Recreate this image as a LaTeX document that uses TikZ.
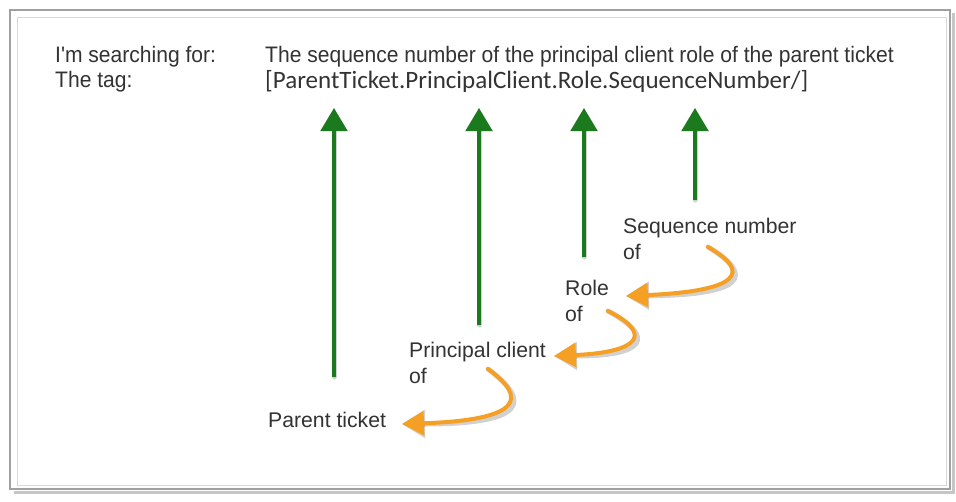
\documentclass[tikz,border=0pt]{standalone}
\usepackage{fontspec}
\setmainfont{Liberation Sans}
\newfontfamily\narrowfont[FakeStretch=0.94]{Liberation Sans}
\newfontfamily\tagfont{Carlito}
\usetikzlibrary{arrows.meta}
\definecolor{txt}{HTML}{333333}
\definecolor{grn}{HTML}{1B7A1E}
\definecolor{org}{HTML}{F5A024}
\definecolor{frm}{HTML}{A0A0A0}
\tikzset{
  greenarrow/.style={draw=grn, line width=4pt, -{Triangle[width=26pt,length=23pt]}},
  orangearrow/.style={draw=org, line width=4pt, line cap=round, -{Triangle[width=24pt,length=22pt]}},
  shadowarrow/.style={draw=black, opacity=0.18, line width=5pt, line cap=round, -{Triangle[width=27pt,length=23pt]}},
  lbl/.style={font=\fontsize{21.2}{26}\selectfont, text=txt, inner sep=0pt, anchor=base west},
  toptxt/.style={font=\narrowfont\fontsize{22.4}{26}\selectfont, text=txt, inner sep=0pt, anchor=base west},
  tagtxt/.style={font=\tagfont\fontsize{25}{28}\selectfont, text=txt, inner sep=0pt, anchor=base west},
}
\begin{document}
\begin{tikzpicture}[x=1pt,y=-1pt]
\useasboundingbox (0,0) rectangle (956,501);
\fill[white] (0,0) rectangle (956,501);
% frame
\draw[frm!60, line width=3pt] (14,492) -- (953,492) -- (953,13);
\draw[frm, line width=2.5pt] (10,10) rectangle (950,489);
\draw[frm!40, line width=0.8pt] (17,17) rectangle (946,485);
% texts
\node[toptxt] (search) at (55,62) {I'm searching for:};
\node[toptxt] (tag) at (55,87) {The tag:};
\node[toptxt] (desc) at (265,62) {The sequence number of the principal client role of the parent ticket};
\node[tagtxt] (tagval) at (265,88) {[ParentTicket.PrincipalClient.Role.SequenceNumber/]};
% labels
\node[lbl] (seq) at (623,233) {Sequence number};
\node[lbl] (seqof) at (623,259) {of};
\node[lbl] (role) at (565,295) {Role};
\node[lbl] (roleof) at (565,321) {of};
\node[lbl] (pc) at (409,357) {Principal client};
\node[lbl] (pcof) at (409,383) {of};
\node[lbl] (pt) at (268,427) {Parent ticket};
% coordinates for arrows
\coordinate (g1s) at (334,377); \coordinate (g1e) at (334,108);
\coordinate (g2s) at (479,325); \coordinate (g2e) at (479,108);
\coordinate (g3s) at (584,257); \coordinate (g3e) at (584,108);
\coordinate (g4s) at (695,200); \coordinate (g4e) at (695,108);
\coordinate (o1s) at (708,247); \coordinate (o1e) at (626,296);
\coordinate (o2s) at (608,311); \coordinate (o2e) at (554,356);
\coordinate (o3s) at (488,369); \coordinate (o3e) at (402,424);
% shadows
\begin{scope}[shift={(4,4)}]
\draw[shadowarrow] (g1s) -- (g1e);
\draw[shadowarrow] (g2s) -- (g2e);
\draw[shadowarrow] (g3s) -- (g3e);
\draw[shadowarrow] (g4s) -- (g4e);
\draw[shadowarrow] (o1s) .. controls (752,272) and (740,291) .. (o1e);
\draw[shadowarrow] (o2s) .. controls (652,333) and (642,352) .. (o2e);
\draw[shadowarrow] (o3s) .. controls (528,398) and (522,420) .. (o3e);
\end{scope}
% green arrows
\draw[greenarrow] (g1s) -- (g1e);
\draw[greenarrow] (g2s) -- (g2e);
\draw[greenarrow] (g3s) -- (g3e);
\draw[greenarrow] (g4s) -- (g4e);
% orange arrows
\draw[orangearrow] (o1s) .. controls (752,272) and (740,291) .. (o1e);
\draw[orangearrow] (o2s) .. controls (652,333) and (642,352) .. (o2e);
\draw[orangearrow] (o3s) .. controls (528,398) and (522,420) .. (o3e);
\end{tikzpicture}
\end{document}
